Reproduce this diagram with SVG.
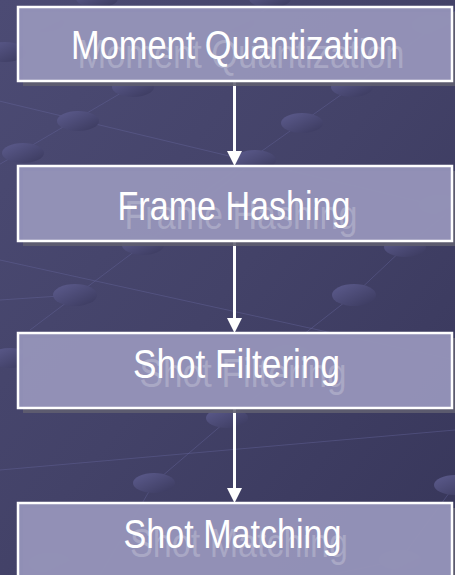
<svg xmlns="http://www.w3.org/2000/svg" width="455" height="575" viewBox="0 0 455 575">
<defs>
<linearGradient id="bg" x1="0" y1="0" x2="1" y2="1">
<stop offset="0" stop-color="#4c4b74"/>
<stop offset="0.5" stop-color="#434268"/>
<stop offset="1" stop-color="#37365a"/>
</linearGradient>
<linearGradient id="dot" x1="0" y1="0" x2="1" y2="1">
<stop offset="0" stop-color="#5d5c8e"/>
<stop offset="1" stop-color="#3a395d"/>
</linearGradient>
<style>
.dot{fill:url(#dot)}
.bgl{stroke:#6766949;stroke:#64639a;stroke-opacity:0.45;stroke-width:1;fill:none}
.shadow{fill:#5f5e70;opacity:0.9}
.box{fill:#9594b9;fill-opacity:0.95;stroke:#ffffff;stroke-width:2.5}
.lbl{font-family:"Liberation Sans Narrow","Arial Narrow","Liberation Sans",Arial,sans-serif;font-size:40px;fill:#ffffff;text-anchor:middle}
.ghost{font-family:"Liberation Sans Narrow","Arial Narrow","Liberation Sans",Arial,sans-serif;font-size:40px;fill:#ffffff;fill-opacity:0.22;text-anchor:middle}
.conn{stroke:#ffffff;stroke-width:3;fill:none}
.head{fill:#ffffff}
</style>
</defs>
<rect x="0" y="0" width="455" height="575" fill="url(#bg)"/>
<g id="background">
<path class="bgl" d="M-10 170 L150 76 L300 -10"/>
<path class="bgl" d="M200 195 L352 87 L470 0"/>
<path class="bgl" d="M30 330 L143 245 L250 165"/>
<path class="bgl" d="M290 345 L354 295 L405 247 L470 195"/>
<path class="bgl" d="M0 300 L75 295"/>
<path class="bgl" d="M-5 100 L455 210"/>
<path class="bgl" d="M0 260 L455 360"/>
<path class="bgl" d="M100 575 L154 483 L230 418 L300 360"/>
<path class="bgl" d="M330 575 L400 560 L455 485"/>
<path class="bgl" d="M0 470 L455 430"/>
<ellipse class="dot" cx="97" cy="-2" rx="21" ry="10"/>
<ellipse class="dot" cx="270" cy="-2" rx="21" ry="10"/>
<ellipse class="dot" cx="43" cy="22" rx="21" ry="10"/>
<ellipse class="dot" cx="233" cy="22" rx="21" ry="10"/>
<ellipse class="dot" cx="433" cy="25" rx="21" ry="10"/>
<ellipse class="dot" cx="5" cy="52" rx="21" ry="10"/>
<ellipse class="dot" cx="133" cy="87" rx="21" ry="10"/>
<ellipse class="dot" cx="352" cy="87" rx="21" ry="10"/>
<ellipse class="dot" cx="78" cy="121" rx="21" ry="10"/>
<ellipse class="dot" cx="302" cy="123" rx="21" ry="10"/>
<ellipse class="dot" cx="23" cy="153" rx="21" ry="10"/>
<ellipse class="dot" cx="255" cy="160" rx="21" ry="10"/>
<ellipse class="dot" cx="440" cy="205" rx="21" ry="10"/>
<ellipse class="dot" cx="143" cy="245" rx="21" ry="10"/>
<ellipse class="dot" cx="405" cy="247" rx="21" ry="10"/>
<ellipse class="dot" cx="75" cy="295" rx="22" ry="11"/>
<ellipse class="dot" cx="354" cy="295" rx="22" ry="11"/>
<ellipse class="dot" cx="10" cy="358" rx="21" ry="10"/>
<ellipse class="dot" cx="290" cy="355" rx="21" ry="10"/>
<ellipse class="dot" cx="227" cy="418" rx="21" ry="10"/>
<ellipse class="dot" cx="154" cy="483" rx="21" ry="10"/>
<ellipse class="dot" cx="455" cy="485" rx="21" ry="10"/>
<ellipse class="dot" cx="50" cy="563" rx="21" ry="10"/>
<ellipse class="dot" cx="400" cy="560" rx="21" ry="10"/>
</g>
<g id="connectors">
<line class="conn" x1="234.5" y1="81" x2="234.5" y2="152"/>
<polygon class="head" points="227,151 242,151 234.5,166"/>
<line class="conn" x1="234.5" y1="241" x2="234.5" y2="319"/>
<polygon class="head" points="227,318 242,318 234.5,333"/>
<line class="conn" x1="234.5" y1="408" x2="234.5" y2="489"/>
<polygon class="head" points="227,488 242,488 234.5,503"/>
</g>
<g id="node-moment-quantization">
<rect class="shadow" x="23" y="12" width="434" height="74"/>
<rect class="box" x="18" y="7" width="434" height="74"/>
<text class="ghost" x="241" y="68" textLength="327" lengthAdjust="spacingAndGlyphs">Moment Quantization</text>
<text class="lbl" x="234.5" y="59" textLength="327" lengthAdjust="spacingAndGlyphs">Moment Quantization</text>
</g>
<g id="node-frame-hashing">
<rect class="shadow" x="23" y="171" width="434" height="75"/>
<rect class="box" x="18" y="166" width="434" height="75"/>
<text class="ghost" x="241" y="229" textLength="233" lengthAdjust="spacingAndGlyphs">Frame Hashing</text>
<text class="lbl" x="234" y="220" textLength="233" lengthAdjust="spacingAndGlyphs">Frame Hashing</text>
</g>
<g id="node-shot-filtering">
<rect class="shadow" x="23" y="338" width="434" height="75"/>
<rect class="box" x="18" y="333" width="434" height="75"/>
<text class="ghost" x="243" y="387" textLength="207" lengthAdjust="spacingAndGlyphs">Shot Filtering</text>
<text class="lbl" x="236.5" y="378" textLength="207" lengthAdjust="spacingAndGlyphs">Shot Filtering</text>
</g>
<g id="node-shot-matching">
<rect class="shadow" x="23" y="508" width="434" height="80"/>
<rect class="box" x="18" y="503" width="434" height="80"/>
<text class="ghost" x="239" y="557" textLength="218" lengthAdjust="spacingAndGlyphs">Shot Matching</text>
<text class="lbl" x="232.5" y="548" textLength="218" lengthAdjust="spacingAndGlyphs">Shot Matching</text>
</g>
</svg>
